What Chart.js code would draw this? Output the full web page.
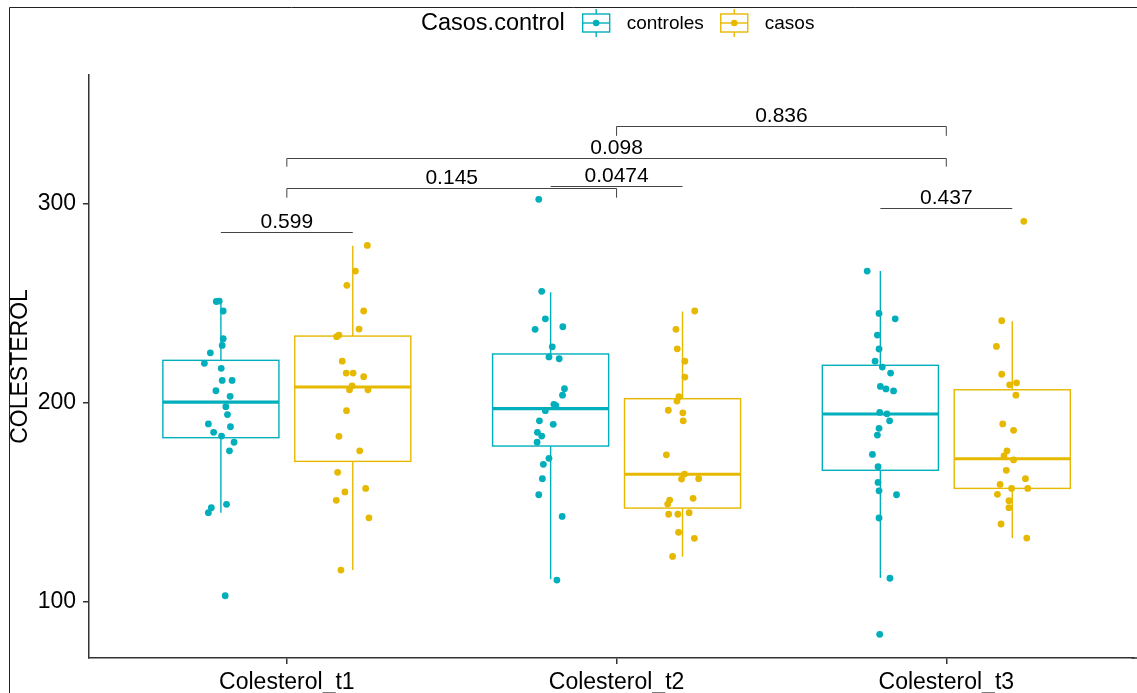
<!DOCTYPE html>
<html>
<head>
<meta charset="utf-8">
<script src="https://cdn.jsdelivr.net/npm/chart.js@4.4.0/dist/chart.umd.min.js"></script>
<style>
html,body{margin:0;padding:0;background:#fff;}
#wrap{position:relative;width:1137px;height:693px;}
</style>
</head>
<body>
<div id="wrap"><canvas id="chart" width="1137" height="693"></canvas></div>
<script>
// categories / groups
const times=['Colesterol_t1','Colesterol_t2','Colesterol_t3'];
const groups=['controles','casos'];
const groupColors=['#00AFBB','#E7B800'];
const yTicks=[100,200,300];

// jittered observations (value, horizontal jitter in category units)
const controles_t1=[251.0,251.2,246.2,232.3,228.9,225.2,219.9,217.4,211.3,211.3,206.1,203.3,198.1,194.1,189.4,188.0,185.2,183.3,180.2,175.9,149.0,147.3,144.8,103.0];
const controles_t1_jit=[-0.014,-0.005,0.007,0.007,0.004,-0.032,-0.050,0.001,0.004,0.034,-0.015,0.028,0.015,0.020,-0.038,0.029,-0.022,0.002,0.040,0.026,0.017,-0.029,-0.038,0.013];
const casos_t1=[279.2,266.3,259.1,246.2,237.1,233.3,234.1,221.0,215.0,215.0,213.2,208.6,206.6,206.6,196.1,183.2,175.9,165.1,157.0,155.2,151.0,142.2,115.9];
const casos_t1_jit=[0.044,0.008,-0.018,0.033,0.019,-0.049,-0.042,-0.032,-0.020,0.001,0.033,-0.002,-0.010,0.046,-0.019,-0.042,0.021,-0.046,0.039,-0.024,-0.050,0.049,-0.036];
const controles_t2=[302.4,256.1,242.3,237.0,238.3,228.2,223.1,222.2,207.1,203.9,199.3,198.6,196.1,191.0,189.2,185.2,183.3,180.2,172.1,169.1,161.9,153.8,142.9,110.9];
const controles_t2_jit=[-0.036,-0.027,-0.016,-0.047,0.037,0.005,-0.005,0.026,0.042,0.036,0.010,0.016,-0.016,-0.034,0.008,-0.040,-0.027,-0.041,-0.005,-0.022,-0.025,-0.036,0.035,0.019];
const casos_t2=[246.2,237.0,227.2,221.0,213.0,203.1,200.9,196.3,195.0,191.0,173.9,164.2,161.7,161.9,151.1,149.1,152.0,144.0,144.0,144.8,134.9,131.9,122.8];
const casos_t2_jit=[0.037,-0.020,-0.016,0.007,0.007,-0.011,-0.017,-0.043,0.001,0.002,-0.049,0.006,-0.003,0.049,-0.039,-0.045,0.032,-0.042,-0.014,0.020,-0.012,0.036,-0.030];
const controles_t3=[266.3,245.0,242.3,234.1,227.1,221.0,218.0,215.0,208.3,207.0,206.0,195.2,194.5,191.0,187.2,183.8,174.1,167.9,160.0,155.8,153.8,142.1,111.8,83.6];
const controles_t3_jit=[-0.040,-0.004,0.045,-0.009,-0.004,-0.016,0.006,0.031,0.000,0.017,0.040,-0.002,0.020,0.028,-0.004,-0.009,-0.024,-0.007,-0.007,-0.004,0.049,-0.004,0.029,-0.002];
const casos_t3=[291.3,241.3,228.4,214.4,209.1,210.1,203.9,189.4,186.2,175.9,173.3,171.3,166.1,161.9,159.0,157.0,157.0,154.0,150.8,147.3,139.1,132.0];
const casos_t3_jit=[0.035,-0.032,-0.048,-0.032,-0.008,0.013,0.011,-0.029,0.004,-0.016,-0.025,0.004,-0.018,0.040,-0.037,-0.002,0.047,-0.045,-0.010,-0.010,-0.034,0.044];

// box statistics per time point
const controlesLo=[144.8,111.3,111.9];
const controlesQ1=[182.5,178.3,166.1];
const controlesMed=[200.4,197.1,194.4];
const controlesQ3=[221.4,224.6,218.9];
const controlesHi=[251.2,255.7,266.3];
const casosLo=[115.9,122.6,132.0];
const casosQ1=[170.6,147.1,157.0];
const casosMed=[208.0,164.1,171.9];
const casosQ3=[233.6,202.1,206.6];
const casosHi=[279.0,245.9,241.0];

// p-value brackets
const pLabels=['0.599','0.0474','0.437','0.145','0.098','0.836'];
const pFrom=[0.8,1.8,2.8,1,1,2];
const pTo=[1.2,2.2,3.2,2,3,3];
const pY=[285.8,308.9,298.0,307.9,323.3,339.2];
const pTip=[0,0,0,4.7,4.5,4.9];

const dodge=[-0.2,0.2];
const halfBox=0.176;
const FONT='"Liberation Sans", Arial, sans-serif';

const values=[[controles_t1,controles_t2,controles_t3],[casos_t1,casos_t2,casos_t3]];
const jitters=[[controles_t1_jit,controles_t2_jit,controles_t3_jit],[casos_t1_jit,casos_t2_jit,casos_t3_jit]];
const stats=[[controlesLo,controlesQ1,controlesMed,controlesQ3,controlesHi],[casosLo,casosQ1,casosMed,casosQ3,casosHi]];

const datasets=groups.map((g,gi)=>{
    const pts=[];
    times.forEach((t,ti)=>{
        values[gi][ti].forEach((v,k)=>{
            pts.push({x:ti+1+dodge[gi]+jitters[gi][ti][k],y:v});
        });
    });
    return {label:g,data:pts,backgroundColor:groupColors[gi],borderWidth:0,pointRadius:3.4,pointHoverRadius:3.4};
});

const boxPlugin={
    id:'boxes',
    beforeDatasetsDraw(chart){
        const {ctx,scales:{x,y}}=chart;
        ctx.save();
        groups.forEach((g,gi)=>{
            const [lo,q1,med,q3,hi]=stats[gi];
            times.forEach((t,ti)=>{
                const c=ti+1+dodge[gi];
                const cx=x.getPixelForValue(c);
                const l=x.getPixelForValue(c-halfBox), r=x.getPixelForValue(c+halfBox);
                const yq1=y.getPixelForValue(q1[ti]), yq3=y.getPixelForValue(q3[ti]);
                ctx.strokeStyle=groupColors[gi];
                ctx.lineWidth=1.4;
                ctx.beginPath();
                ctx.moveTo(cx,y.getPixelForValue(hi[ti]));ctx.lineTo(cx,yq3);
                ctx.moveTo(cx,yq1);ctx.lineTo(cx,y.getPixelForValue(lo[ti]));
                ctx.stroke();
                ctx.fillStyle='#fff';
                ctx.fillRect(l,yq3,r-l,yq1-yq3);
                ctx.strokeRect(l,yq3,r-l,yq1-yq3);
                ctx.lineWidth=3.2;
                const ym=y.getPixelForValue(med[ti]);
                ctx.beginPath();ctx.moveTo(l,ym);ctx.lineTo(r,ym);ctx.stroke();
            });
        });
        ctx.restore();
    },
    afterDatasetsDraw(chart){
        const {ctx,scales:{x,y}}=chart;
        ctx.save();
        ctx.strokeStyle='#444';
        ctx.lineWidth=1;
        ctx.fillStyle='#000';
        ctx.font='21px '+FONT;
        ctx.textAlign='center';
        ctx.textBaseline='alphabetic';
        pLabels.forEach((lab,i)=>{
            const x1=x.getPixelForValue(pFrom[i]), x2=x.getPixelForValue(pTo[i]);
            const yy=Math.round(y.getPixelForValue(pY[i]))+0.5;
            const yt=y.getPixelForValue(pY[i]-pTip[i]);
            ctx.beginPath();
            if(pTip[i]>0){ctx.moveTo(x1,yt);ctx.lineTo(x1,yy);ctx.lineTo(x2,yy);ctx.lineTo(x2,yt);}
            else{ctx.moveTo(x1,yy);ctx.lineTo(x2,yy);}
            ctx.stroke();
            ctx.fillText(lab,(x1+x2)/2,yy-5);
        });
        ctx.restore();
    },
    afterDraw(chart){
        const ctx=chart.ctx;
        ctx.save();
        // outer frame
        ctx.strokeStyle='#222';ctx.lineWidth=1;
        ctx.beginPath();ctx.moveTo(9.5,693);ctx.lineTo(9.5,7.5);ctx.lineTo(1137,7.5);ctx.stroke();
        // x axis line runs to the right edge
        ctx.strokeStyle='#333';ctx.lineWidth=1.5;
        ctx.beginPath();ctx.moveTo(chart.chartArea.right-2,chart.chartArea.bottom);ctx.lineTo(1137,chart.chartArea.bottom);ctx.stroke();
        // legend
        let lx=421; const ly=23;
        ctx.fillStyle='#000';ctx.textBaseline='middle';ctx.textAlign='left';
        ctx.font='23.5px '+FONT;
        ctx.fillText('Casos.control',lx,ly+1);
        lx+=ctx.measureText('Casos.control').width+18;
        ctx.font='19px '+FONT;
        groups.forEach((g,gi)=>{
            const col=groupColors[gi];
            ctx.strokeStyle=col;ctx.lineWidth=1.4;
            const cx=lx+13.5;
            ctx.beginPath();ctx.moveTo(cx,9);ctx.lineTo(cx,37);ctx.stroke();
            ctx.fillStyle='#fff';ctx.fillRect(lx,14,27,18);ctx.strokeRect(lx,14,27,18);
            ctx.beginPath();ctx.moveTo(lx,ly);ctx.lineTo(lx+27,ly);ctx.stroke();
            ctx.fillStyle=col;ctx.beginPath();ctx.arc(cx,ly,3.3,0,Math.PI*2);ctx.fill();
            lx+=27+17;
            ctx.fillStyle='#000';
            ctx.fillText(g,lx,ly+1);
            lx+=ctx.measureText(g).width+17;
        });
        ctx.restore();
    }
};

new Chart(document.getElementById('chart'),{
    type:'scatter',
    data:{datasets:datasets},
    plugins:[boxPlugin],
    options:{
        responsive:false,
        animation:false,
        devicePixelRatio:1,
        layout:{padding:{top:75,left:0,right:0,bottom:0}},
        plugins:{legend:{display:false},tooltip:{enabled:false}},
        scales:{
            x:{
                type:'linear',min:0.4,max:3.568,
                afterBuildTicks:(s)=>{s.ticks=times.map((t,i)=>({value:i+1}));},
                afterFit:(s)=>{s.height=35;},
                ticks:{callback:(v)=>times[v-1],font:{size:23,family:FONT},color:'#000',padding:5,maxRotation:0,autoSkip:false},
                grid:{display:true,drawOnChartArea:false,drawTicks:true,tickLength:6,color:'#333',lineWidth:1.5},
                border:{display:true,color:'#333',width:1.5}
            },
            y:{
                min:71.7,max:364.9,
                afterBuildTicks:(s)=>{s.ticks=yTicks.map(v=>({value:v}));},
                afterFit:(s)=>{s.width=89;},
                ticks:{font:{size:23,family:FONT},color:'#000',padding:7},
                grid:{display:true,drawOnChartArea:false,drawTicks:true,tickLength:6,color:'#333',lineWidth:1.5},
                border:{display:true,color:'#333',width:1.5},
                title:{display:true,text:'COLESTEROL',font:{size:23,family:FONT},color:'#000',padding:{top:7,bottom:0}}
            }
        }
    }
});
</script>
</body>
</html>
